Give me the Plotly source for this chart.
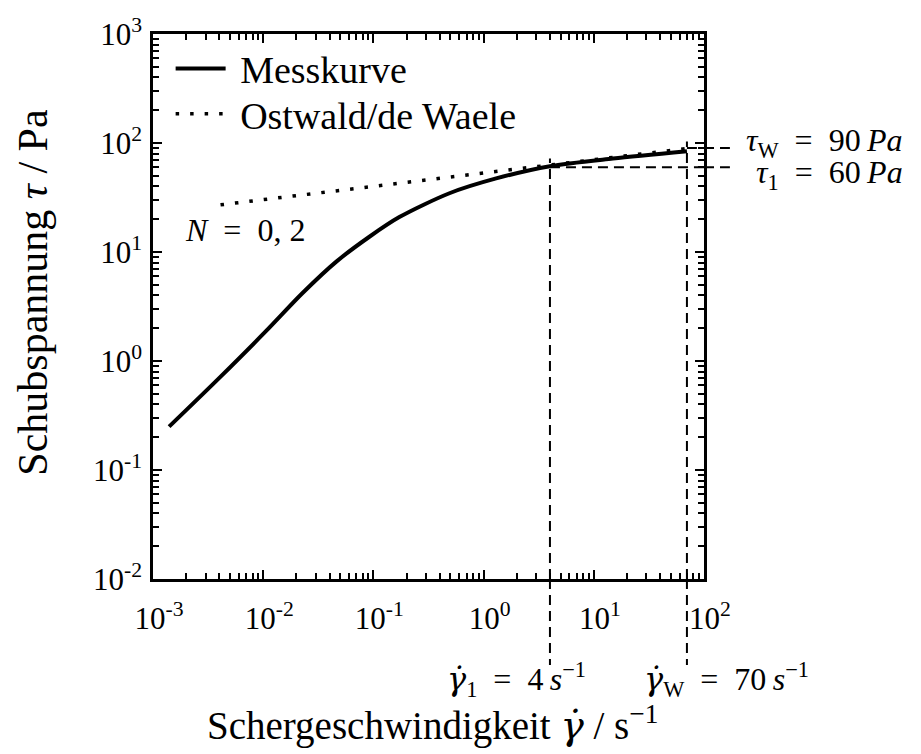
import plotly.graph_objects as go

# Measured flow curve (shear rate in 1/s, shear stress in Pa)
mess_rate = [0.0014, 0.004, 0.01064, 0.02264, 0.0461, 0.092, 0.172, 0.49, 1.3, 4.0, 14.9, 70]
mess_stress = [0.25, 0.70, 1.886, 4.18, 8.16, 13.8, 20.9, 34.6, 47.3, 61.3, 72, 84]

# Ostwald/de Waele power-law fit
ow_rate = [0.0041, 80]
ow_stress = [27.1, 90.6]

# Marked operating points
gamma_1, tau_1 = 4, 60
gamma_w, tau_w = 70, 90

x_tickvals = [1e-3, 1e-2, 1e-1, 1e0, 1e1, 1e2]
x_ticktext = ["10<sup>-3</sup>", "10<sup>-2</sup>", "10<sup>-1</sup>", "10<sup>0</sup>", "10<sup>1</sup>", "10<sup>2</sup>"]
y_tickvals = [1e-2, 1e-1, 1e0, 1e1, 1e2, 1e3]
y_ticktext = ["10<sup>-2</sup>", "10<sup>-1</sup>", "10<sup>0</sup>", "10<sup>1</sup>", "10<sup>2</sup>", "10<sup>3</sup>"]


def minor_ticks(first_decade, last_decade):
    return [k * 10.0 ** d for d in range(first_decade, last_decade) for k in range(2, 10)]


SERIF = "Liberation Serif"
GAMMA = "<span style=\"font-family:DejaVu Serif\"><i>γ̇</i></span>"
SP = "\u2002"

fig = go.Figure()
fig.add_trace(go.Scatter(
    x=mess_rate, y=mess_stress, mode="lines", name="\u00a0Messkurve", legend="legend",
    line=dict(color="black", width=4, shape="spline", smoothing=0.8),
))
fig.add_trace(go.Scatter(
    x=ow_rate, y=ow_stress, mode="lines", name="\u00a0Ostwald/de Waele", legend="legend2",
    line=dict(color="black", width=3.5, dash="3.5px,11px"),
))

dash = dict(color="black", width=2, dash="10px,6px")
shapes = [
    # vertical guide at gamma_1
    dict(type="line", xref="x", yref="y", x0=gamma_1, x1=gamma_1, y0=0.01, y1=72, line=dash),
    dict(type="line", xref="x", yref="paper", x0=gamma_1, x1=gamma_1, y0=0, y1=-0.158, line=dash),
    # vertical guide at gamma_w
    dict(type="line", xref="x", yref="y", x0=gamma_w, x1=gamma_w, y0=0.01, y1=103, line=dash),
    dict(type="line", xref="x", yref="paper", x0=gamma_w, x1=gamma_w, y0=0, y1=-0.158, line=dash),
    # horizontal guide at tau_1
    dict(type="line", xref="x", yref="y", x0=gamma_1, x1=100, y0=tau_1, y1=tau_1, line=dash),
    dict(type="line", xref="paper", yref="y", x0=1, x1=1.047, y0=tau_1, y1=tau_1, line=dash),
    # horizontal guide at tau_w
    dict(type="line", xref="x", yref="y", x0=gamma_w, x1=100, y0=tau_w, y1=tau_w, line=dash),
    dict(type="line", xref="paper", yref="y", x0=1, x1=1.047, y0=tau_w, y1=tau_w, line=dash),
]

ann_font = dict(family=SERIF, size=32, color="black")
title_font = dict(family=SERIF, size=39, color="black")
annotations = [
    dict(xref="paper", yref="paper", x=1.365, y=0.800, xanchor="right", yanchor="middle",
         text=f"<i>τ</i><sub>W</sub>{SP}={SP}{tau_w}\u2009<i>Pa</i>", showarrow=False, font=ann_font),
    dict(xref="paper", yref="paper", x=1.365, y=0.742, xanchor="right", yanchor="middle",
         text=f"<i>τ</i><sub>1</sub>{SP}={SP}{tau_1}\u2009<i>Pa</i>", showarrow=False, font=ann_font),
    dict(xref="paper", yref="paper", x=0.054, y=0.640, xanchor="left", yanchor="middle",
         text=f"<i>N</i>{SP}={SP}0, 2", showarrow=False, font=ann_font),
    dict(xref="paper", yref="paper", x=0.53, y=-0.185, xanchor="left", yanchor="middle",
         text=f"{GAMMA}<sub>1</sub>{SP}={SP}{gamma_1}\u2009<i>s</i><sup>−1</sup>", showarrow=False, font=ann_font),
    dict(xref="paper", yref="paper", x=0.887, y=-0.185, xanchor="left", yanchor="middle",
         text=f"{GAMMA}<sub>W</sub>{SP}={SP}{gamma_w}\u2009<i>s</i><sup>−1</sup>", showarrow=False, font=ann_font),
    dict(xref="paper", yref="paper", x=0.508, y=-0.265, xanchor="center", yanchor="middle",
         text=f"Schergeschwindigkeit {GAMMA} / s<sup>−1</sup>", showarrow=False, font=title_font),
    dict(xref="paper", yref="paper", x=-0.218, y=0.527, xanchor="center", yanchor="middle",
         text="Schubspannung <i>τ</i> / Pa", textangle=-90, showarrow=False,
         font=dict(family=SERIF, size=42, color="black")),
]

axis_common = dict(
    type="log", showgrid=False, zeroline=False, showline=True, linecolor="black", linewidth=2.5,
    mirror="allticks", ticks="inside", ticklen=9, tickwidth=2, tickcolor="black",
    tickfont=dict(family=SERIF, size=31, color="black"),
)

fig.update_xaxes(range=[-3, 2], tickvals=x_tickvals, ticktext=x_ticktext,
                 ticklabelstandoff=10, ticklabelshift=6,
                 minor=dict(tickmode="array", tickvals=minor_ticks(-3, 2), ticks="inside",
                            ticklen=6, tickwidth=2, tickcolor="black", showgrid=False),
                 **axis_common)
fig.update_yaxes(range=[-2, 3], tickvals=y_tickvals, ticktext=y_ticktext,
                 ticklabelstandoff=2,
                 minor=dict(tickmode="array", tickvals=minor_ticks(-2, 3), ticks="inside",
                            ticklen=6, tickwidth=2, tickcolor="black", showgrid=False),
                 **axis_common)

legend_common = dict(xanchor="left", yanchor="middle", bgcolor="rgba(0,0,0,0)",
                     font=dict(family=SERIF, size=38, color="black"), itemwidth=50)

fig.update_layout(
    width=921, height=754,
    margin=dict(l=153, r=217, t=34, b=175),
    paper_bgcolor="white", plot_bgcolor="white",
    font=dict(family=SERIF, color="black"),
    showlegend=True,
    legend=dict(x=0.032, y=0.936, **legend_common),
    legend2=dict(x=0.032, y=0.853, **legend_common),
    shapes=shapes, annotations=annotations,
)

fig.write_html("out.html")
